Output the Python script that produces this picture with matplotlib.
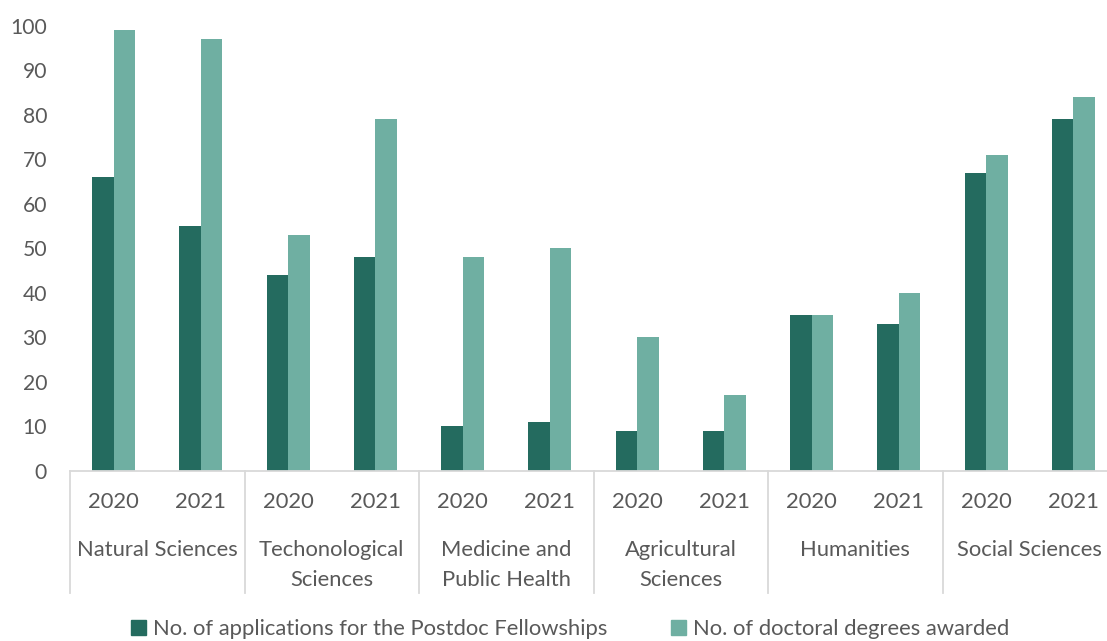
import matplotlib
matplotlib.use("Agg")
import matplotlib.pyplot as plt
import numpy as np
from matplotlib.patches import Patch
from matplotlib.transforms import blended_transform_factory

fields = ["Natural Sciences", "Techonological\nSciences", "Medicine and\nPublic Health",
          "Agricultural\nSciences", "Humanities", "Social Sciences"]
years = ["2020", "2021"]
applications = [66, 55, 44, 48, 10, 11, 9, 9, 35, 33, 67, 79]
degrees = [99, 97, 53, 79, 48, 50, 30, 17, 35, 40, 71, 84]
series_names = ["No. of applications for the Postdoc Fellowships", "No. of doctoral degrees awarded"]
yticks = [0, 10, 20, 30, 40, 50, 60, 70, 80, 90, 100]

dark = "#246B5F"
light = "#6FAFA2"
txt = "#595959"
grid = "#D9D9D9"
fs = 15.8

plt.rcParams['font.family'] = ['Lato', 'DejaVu Sans']

W, H = 1107, 641
fig = plt.figure(figsize=(W / 100, H / 100), dpi=100)
x0, x1 = 70, 1117
ybase, ytop = 471, 25.5
ax = fig.add_axes([x0 / W, (H - ybase) / H, (x1 - x0) / W, (ybase - ytop) / H])

n = len(applications)
x = np.arange(n)
bw = 0.245
ax.bar(x - bw / 2, applications, bw, color=dark, label=series_names[0])
ax.bar(x + bw / 2, degrees, bw, color=light, label=series_names[1])

ax.set_xlim(-0.5, n - 0.5)
ax.set_ylim(0, 100)
ax.set_yticks(yticks)
ax.set_yticklabels([str(v) for v in yticks], fontsize=15.2, color=txt)
ax.tick_params(axis='y', length=0, pad=16.5)
ax.set_xticks([])
for s in ['top', 'right', 'left']:
    ax.spines[s].set_visible(False)
ax.spines['bottom'].set_color(grid)
ax.spines['bottom'].set_linewidth(1.3)

tr = blended_transform_factory(ax.transData, fig.transFigure)
for i in range(n):
    ax.text(i, (H - 502) / H, years[i % 2], transform=tr, ha='center', va='center',
            fontsize=fs, color=txt)
for g, name in enumerate(fields):
    ax.text(2 * g + 0.5, (H - 540) / H, name, transform=tr, ha='center', va='top',
            fontsize=fs, color=txt, linespacing=1.6)
for b in np.arange(-0.5, n - 0.5 + 0.01, 2):
    ax.plot([b, b], [(H - ybase) / H, (H - 593) / H], transform=tr, color=grid,
            lw=1.3, clip_on=False)

handles = [Patch(color=dark, label=series_names[0]), Patch(color=light, label=series_names[1])]
fig.legend(handles=handles, loc='center', bbox_to_anchor=(0.515, (H - 629) / H), ncol=2,
           frameon=False, fontsize=fs, labelcolor=txt, handlelength=0.7, handleheight=0.7,
           handletextpad=0.3, columnspacing=2.9)

fig.savefig("out.png", dpi=100)
